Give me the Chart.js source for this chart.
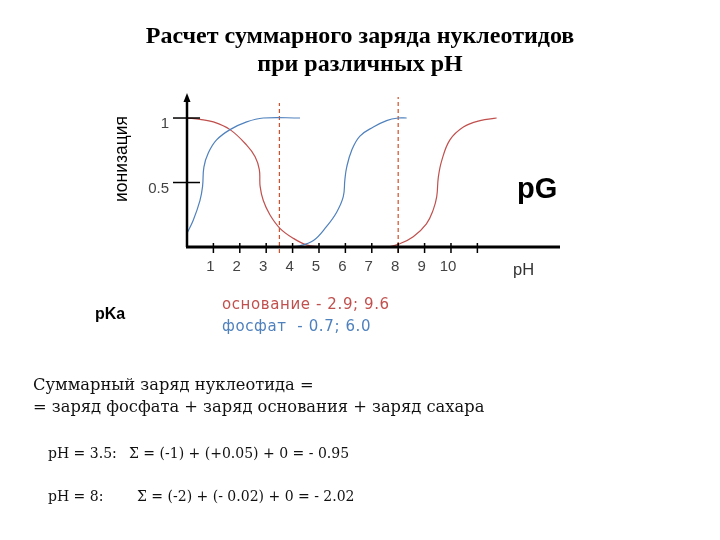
<!DOCTYPE html>
<html lang="ru">
<head>
<meta charset="utf-8">
<title>Расчет суммарного заряда нуклеотидов</title>
<script src="https://cdn.jsdelivr.net/npm/chart.js@4.4.0/dist/chart.umd.min.js"></script>
<style>
  body { margin: 0; background: #fff; }
  #page { position: relative; width: 720px; height: 540px; overflow: hidden; font-family: "Liberation Sans", Arial, sans-serif; }
  #page canvas { position: absolute; left: 0; top: 0; }
  .t { position: absolute; white-space: pre; }
  .title { left: 0; width: 720px; text-align: center; font-family: "Liberation Serif", "Times New Roman", serif; font-weight: bold; font-size: 24px; line-height: 28px; top: 21px; }
  .ser { font-family: "DejaVu Serif", serif; font-size: 16.3px; line-height: 20px; color: #111; }
  .ser.small { font-size: 14px; }
  .leg { font-family: "DejaVu Sans", sans-serif; font-size: 15px; letter-spacing: 0.6px; line-height: 18px; }
</style>
</head>
<body>
<div id="page">
  <canvas id="chart" width="720" height="540"></canvas>

  <div class="t title">Расчет суммарного заряда нуклеотидов<br>при различных pH</div>
  <div class="t" style="left:121px; top:159px; font-size:17.5px; transform:translate(-50%,-50%) rotate(-90deg);">ионизация</div>
  <div class="t" style="left:517px; top:172px; font-size:29px; font-weight:bold; line-height:32px;">pG</div>
  <div class="t" style="left:513px; top:260px; font-size:16.5px; line-height:18px; color:#333;">pH</div>
  <div class="t" style="left:95px; top:305px; font-size:16px; line-height:18px; font-weight:bold;">pKa</div>
  <div class="t leg" style="left:222px; top:295px; color:#c0504d;">основание - 2.9; 9.6</div>
  <div class="t leg" style="left:222px; top:317px; color:#4f81bd;">фосфат  - 0.7; 6.0</div>

  <div class="t ser" style="left:33px; top:375px;">Суммарный заряд нуклеотида =</div>
  <div class="t ser" style="left:33px; top:397px;">= заряд фосфата + заряд основания + заряд сахара</div>
  <div class="t ser small" style="left:48px; top:443px;">pH = 3.5:</div>
  <div class="t ser small" style="left:129px; top:443px;">Σ = (-1) + (+0.05) + 0 = - 0.95</div>
  <div class="t ser small" style="left:48px; top:486px;">pH = 8:</div>
  <div class="t ser small" style="left:137px; top:486px;">Σ = (-2) + (- 0.02) + 0 = - 2.02</div>
</div>

<script>
// фосфат (синяя кривая), два участка
const phosphate1Ph  = [0, 0.24, 0.49, 0.59, 0.64, 0.81, 1.12, 1.63, 2.26, 2.89, 4.28];
const phosphate1Ion = [0.106, 0.21, 0.36, 0.47, 0.62, 0.73, 0.83, 0.91, 0.97, 1.0, 1.0];
const phosphate2Ph  = [3.84, 4.28, 4.79, 5.29, 5.67, 5.92, 5.98, 6.05, 6.24, 6.55, 7.06, 7.56, 8.0, 8.32];
const phosphate2Ion = [0, 0.01, 0.05, 0.16, 0.27, 0.39, 0.52, 0.62, 0.75, 0.86, 0.93, 0.98, 1.0, 1.0];

// основание (красная кривая), два участка
const base1Ph  = [0, 0.49, 1.0, 1.63, 2.26, 2.58, 2.74, 2.77, 2.89, 3.14, 3.52, 4.03, 4.53, 5.04];
const base1Ion = [1.0, 0.99, 0.97, 0.91, 0.79, 0.70, 0.60, 0.47, 0.36, 0.25, 0.145, 0.067, 0.016, 0];
const base2Ph  = [7.18, 7.69, 8.0, 8.57, 9.07, 9.33, 9.46, 9.52, 9.65, 9.96, 10.47, 11.1, 11.73];
const base2Ion = [0, 0.003, 0.02, 0.08, 0.18, 0.29, 0.39, 0.54, 0.67, 0.83, 0.93, 0.98, 1.0];

// пунктирные линии при pH 3.5 и pH 8
const markerPh   = [3.5, 8];
const markerLow  = [-0.047, -0.047];
const markerHigh = [1.116, 1.163];

const xTickValues = [1, 2, 3, 4, 5, 6, 7, 8, 9, 10, 11];
const xTickLabels = ['1', '2', '3', '4', '5', '6', '7', '8', '9', '10', ''];
const yTickValues = [0.5, 1];
const yTickLabels = ['0.5', '1'];

const RED = '#c0504d';
const BLUE = '#4f81bd';

function pts(xs, ys) {
  return xs.map((x, i) => ({ x: x, y: ys[i] }));
}

function curve(xs, ys, color) {
  return {
    data: pts(xs, ys),
    borderColor: color,
    borderWidth: 1.2,
    pointRadius: 0,
    fill: false,
    tension: 0.4
  };
}

const datasets = [
  curve(phosphate1Ph, phosphate1Ion, BLUE),
  curve(phosphate2Ph, phosphate2Ion, BLUE),
  curve(base1Ph, base1Ion, RED),
  curve(base2Ph, base2Ion, RED)
];
markerPh.forEach((p, i) => {
  datasets.push({
    data: [{ x: p, y: markerLow[i] }, { x: p, y: markerHigh[i] }],
    borderColor: '#d0502a',
    borderWidth: 1.2,
    borderDash: [4, 3],
    pointRadius: 0,
    tension: 0,
    clip: false
  });
});

// оси рисуем сами: стрелка, засечки поперек оси
const axesPlugin = {
  id: 'axes',
  afterDraw(chart) {
    const ctx = chart.ctx;
    const xs = chart.scales.x, ys = chart.scales.y;
    const x0 = xs.getPixelForValue(0), y0 = ys.getPixelForValue(0);
    ctx.save();
    ctx.strokeStyle = '#000';
    ctx.fillStyle = '#000';
    ctx.lineWidth = 3;
    ctx.beginPath();
    ctx.moveTo(x0 - 1, y0);
    ctx.lineTo(xs.right, y0);
    ctx.stroke();
    ctx.lineWidth = 2.5;
    ctx.beginPath();
    ctx.moveTo(x0, y0);
    ctx.lineTo(x0, ys.top + 4);
    ctx.stroke();
    ctx.beginPath();
    ctx.moveTo(x0, ys.top - 4);
    ctx.lineTo(x0 - 3.5, ys.top + 5);
    ctx.lineTo(x0 + 3.5, ys.top + 5);
    ctx.closePath();
    ctx.fill();
    ctx.lineWidth = 1.5;
    xTickValues.forEach(v => {
      const px = xs.getPixelForValue(v);
      ctx.beginPath();
      ctx.moveTo(px, y0 - 4);
      ctx.lineTo(px, y0 + 6);
      ctx.stroke();
    });
    yTickValues.forEach(v => {
      const py = ys.getPixelForValue(v);
      ctx.beginPath();
      ctx.moveTo(x0 - 14, py);
      ctx.lineTo(x0 + 13, py);
      ctx.stroke();
    });
    ctx.restore();
  }
};

new Chart(document.getElementById('chart'), {
  type: 'line',
  data: { datasets: datasets },
  options: {
    responsive: false,
    animation: false,
    events: [],
    layout: { padding: { top: 97, right: 160, left: 0, bottom: 0 } },
    plugins: { legend: { display: false }, tooltip: { enabled: false } },
    scales: {
      x: {
        type: 'linear',
        min: 0,
        max: 14.13,
        grid: { display: false, drawTicks: false },
        border: { display: false },
        afterBuildTicks: s => { s.ticks = xTickValues.map(v => ({ value: v })); },
        afterFit: s => { s.height = 293; },
        ticks: {
          padding: 11,
          labelOffset: -3,
          color: '#444',
          font: { family: '"Liberation Sans", Arial, sans-serif', size: 15 },
          callback: v => xTickLabels[xTickValues.indexOf(v)]
        }
      },
      y: {
        type: 'linear',
        min: 0,
        max: 1.163,
        grid: { display: false, drawTicks: false },
        border: { display: false },
        afterBuildTicks: s => { s.ticks = yTickValues.map(v => ({ value: v })); },
        afterFit: s => { s.width = 187; },
        ticks: {
          padding: 18,
          labelOffset: 6,
          color: '#444',
          font: { family: '"Liberation Sans", Arial, sans-serif', size: 15 },
          callback: v => yTickLabels[yTickValues.indexOf(v)]
        }
      }
    }
  },
  plugins: [axesPlugin]
});
</script>
</body>
</html>
